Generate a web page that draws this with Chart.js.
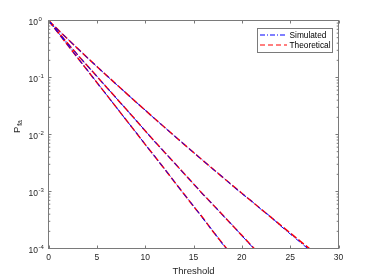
<!DOCTYPE html>
<html><head><meta charset="utf-8">
<script src="https://cdn.jsdelivr.net/npm/chart.js@4.4.0/dist/chart.umd.min.js"></script>
<style>html,body{margin:0;padding:0;background:#fff;overflow:hidden}canvas{display:block}</style>
</head><body><canvas id="c" width="374" height="280"></canvas>
<script>
// ---- data ----
const thresholds = [0,1,2,3,4,5,6,7,8,9,10,11,12,13,14,15,16,17,18,19,20,21,22,23,24,25,26,27,28];

const theoreticalSlow = [1,0.684,0.470,0.324,0.224,0.156,0.109,0.0764,0.0537,0.0378,0.0267,0.0189,0.0134,0.00953,0.00679,0.00485,0.00347,0.00249,0.00179,0.00129,9.33e-4,6.76e-4,4.90e-4,3.55e-4,2.57e-4,1.87e-4,1.36e-4,9.93e-5,7.2e-5];
const theoreticalMid  = [1,0.624,0.394,0.251,0.162,0.105,0.0676,0.0437,0.0282,0.0182,0.0116,0.0075,0.0049,0.0032,0.00209,0.00136,8.9e-4,5.9e-4,3.9e-4,2.57e-4,1.70e-4,1.12e-4,7.4e-5];
const theoreticalFast = [1,0.607,0.368,0.223,0.135,0.082,0.0498,0.0302,0.0183,0.0111,0.0067,0.0041,0.0025,0.0015,9.1e-4,5.5e-4,3.4e-4,2.0e-4,1.23e-4,7.5e-5];

const simulatedSlow = [1,0.683,0.470,0.325,0.224,0.156,0.109,0.0762,0.0538,0.0377,0.0268,0.0188,0.0134,0.00950,0.00681,0.00483,0.00348,0.00247,0.00181,0.00127,9.2e-4,6.8e-4,4.85e-4,3.6e-4,2.5e-4,1.8e-4,1.3e-4,9.4e-5,6.9e-5];
const simulatedMid  = [1,0.625,0.393,0.252,0.161,0.105,0.0677,0.0436,0.0283,0.0181,0.0117,0.0074,0.0049,0.0032,0.00207,0.00137,8.8e-4,5.95e-4,3.85e-4,2.6e-4,1.68e-4,1.1e-4,7.3e-5];
const simulatedFast = [1,0.607,0.369,0.223,0.136,0.082,0.0497,0.0303,0.0182,0.0112,0.0067,0.0041,0.0025,0.00151,9.0e-4,5.6e-4,3.3e-4,2.05e-4,1.2e-4,7.4e-5];

const xTicks = [0,5,10,15,20,25,30];
const yTicks = [1e-4,1e-3,1e-2,1e-1,1];
const yTickExponents = ['-4','-3','-2','-1','0'];
const seriesLabels = ['Simulated','Theoretical'];

// ---- styles ----
const FONT = '"Liberation Sans", Arial, sans-serif';
const AX = '#7a7a7a';
const TXT = '#262626';
const BLUE = '#0000ff', RED = '#ff0000';
const SIM_DASH = [5,2,1,2], TH_DASH = [7,2.5];

function pts(vals){ return vals.map((v,i)=>({x:thresholds[i], y:v})); }
function ds(label, vals, color, dash, width){
  return {label, data: pts(vals), borderColor: color, borderDash: dash, borderWidth: width,
          pointRadius: 0, fill: false, tension: 0};
}

const legendRows = [
  {label: seriesLabels[0], color: BLUE, dash: SIM_DASH, y: 35},
  {label: seriesLabels[1], color: RED, dash: [5,3], y: 45}
];

const frame = {
  id: 'frame',
  afterDatasetsDraw(chart){
    const {ctx, chartArea: a, scales: {x, y}} = chart;
    ctx.save();
    ctx.strokeStyle = AX; ctx.lineWidth = 1; ctx.setLineDash([]);
    ctx.strokeRect(a.left, a.top, a.right - a.left, a.bottom - a.top);
    ctx.beginPath();
    xTicks.forEach(t => {
      const px = Math.round(x.getPixelForValue(t)) + 0.5;
      ctx.moveTo(px, a.bottom); ctx.lineTo(px, a.bottom - 3);
      ctx.moveTo(px, a.top); ctx.lineTo(px, a.top + 3);
    });
    yTicks.forEach((t, i) => {
      const py = y.getPixelForValue(t);
      ctx.moveTo(a.left, py); ctx.lineTo(a.left + 3, py);
      ctx.moveTo(a.right, py); ctx.lineTo(a.right - 3, py);
      if (i < yTicks.length - 1) {
        for (let m = 2; m <= 9; m++) {
          const pm = y.getPixelForValue(t * m);
          ctx.moveTo(a.left, pm); ctx.lineTo(a.left + 1.8, pm);
          ctx.moveTo(a.right, pm); ctx.lineTo(a.right - 1.8, pm);
        }
      }
    });
    ctx.stroke();
    ctx.fillStyle = TXT;
    yTicks.forEach((t, i) => {
      const py = y.getPixelForValue(t);
      ctx.font = '8.5px ' + FONT; ctx.textAlign = 'right'; ctx.textBaseline = 'middle';
      ctx.fillText('10', 38, py + 2);
      ctx.font = '6px ' + FONT; ctx.textAlign = 'left';
      ctx.fillText(yTickExponents[i], 38.5, py - 1.5);
    });
    ctx.save();
    ctx.translate(19.5, 133);
    ctx.rotate(-Math.PI / 2);
    ctx.textAlign = 'left'; ctx.textBaseline = 'alphabetic';
    ctx.font = '9.5px ' + FONT;
    ctx.fillText('P', 0, 0);
    const w = ctx.measureText('P').width;
    ctx.font = '7px ' + FONT;
    ctx.fillText('fa', w + 0.8, 2.5);
    ctx.restore();
    const lx = 257.5, ly = 28.5, lw = 75, lh = 24;
    ctx.fillStyle = '#fff'; ctx.fillRect(lx, ly, lw, lh);
    ctx.strokeStyle = AX; ctx.lineWidth = 1; ctx.strokeRect(lx, ly, lw, lh);
    legendRows.forEach(r => {
      ctx.beginPath();
      ctx.strokeStyle = r.color; ctx.lineWidth = 1.2;
      ctx.setLineDash(r.dash);
      ctx.moveTo(260, r.y); ctx.lineTo(287, r.y); ctx.stroke();
      ctx.setLineDash([]);
      ctx.fillStyle = '#000'; ctx.font = '8.3px ' + FONT;
      ctx.textAlign = 'left'; ctx.textBaseline = 'middle';
      ctx.fillText(r.label, 289.5, r.y + 0.5);
    });
    ctx.restore();
  }
};

new Chart(document.getElementById('c'), {
  type: 'line',
  data: {
    datasets: [
      ds(seriesLabels[0], simulatedSlow, BLUE, SIM_DASH, 1),
      ds(seriesLabels[0], simulatedMid, BLUE, SIM_DASH, 1),
      ds(seriesLabels[0], simulatedFast, BLUE, SIM_DASH, 1),
      ds(seriesLabels[1], theoreticalSlow, RED, TH_DASH, 1.5),
      ds(seriesLabels[1], theoreticalMid, RED, TH_DASH, 1.5),
      ds(seriesLabels[1], theoreticalFast, RED, TH_DASH, 1.5)
    ]
  },
  options: {
    responsive: false, animation: false, devicePixelRatio: 1,
    layout: {padding: {left: 0, right: 35.5, top: 20.5, bottom: 0}},
    plugins: {legend: {display: false}, tooltip: {enabled: false}},
    scales: {
      x: {
        type: 'linear', min: 0, max: 30,
        afterBuildTicks: s => { s.ticks = xTicks.map(v => ({value: v})); },
        afterFit: s => { s.height = 31.5; },
        grid: {display: false, drawTicks: false}, border: {display: false},
        ticks: {font: {family: FONT, size: 8.5}, color: TXT, padding: 4, maxRotation: 0},
        title: {display: true, text: 'Threshold', font: {family: FONT, size: 9.5}, color: TXT,
                padding: {top: 0, bottom: 2.5}}
      },
      y: {
        type: 'logarithmic', min: 1e-4, max: 1,
        afterBuildTicks: s => { s.ticks = yTicks.map(v => ({value: v})); },
        afterFit: s => { s.width = 48.5; },
        grid: {display: false, drawTicks: false}, border: {display: false},
        ticks: {display: false}
      }
    }
  },
  plugins: [frame]
});
</script>
</body></html>
